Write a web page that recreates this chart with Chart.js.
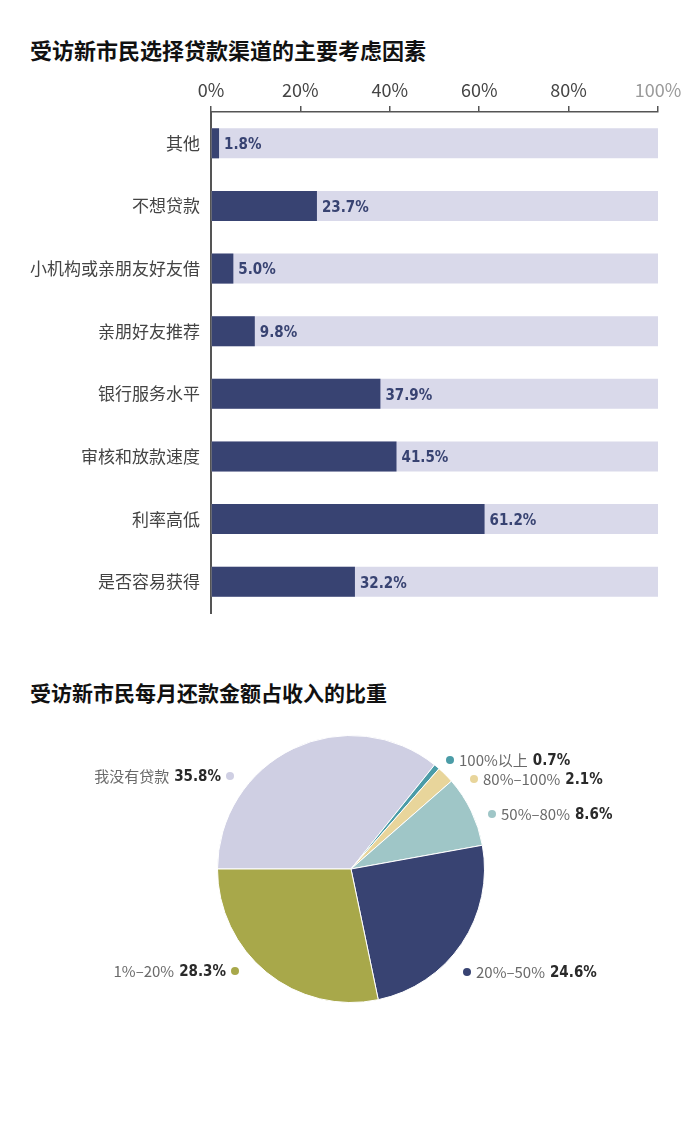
<!DOCTYPE html>
<html>
<head>
<meta charset="utf-8">
<script src="https://cdn.jsdelivr.net/npm/chart.js@4.4.1/dist/chart.umd.min.js"></script>
<style>
  body { margin: 0; background: #fff; width: 700px; height: 1139px; position: relative; overflow: hidden; }
  .title { position: absolute; left: 30px; font: bold 22px "Noto Sans CJK SC", sans-serif; color: #111; }
  #barWrap { position: absolute; left: 0; top: 60px; width: 700px; height: 570px; }
  #pieWrap { position: absolute; left: 0; top: 720px; width: 700px; height: 300px; }
</style>
</head>
<body>
<div class="title" style="top:33px">受访新市民选择贷款渠道的主要考虑因素</div>
<div id="barWrap"><canvas id="barChart"></canvas></div>
<div class="title" style="top:677px;font-size:21px">受访新市民每月还款金额占收入的比重</div>
<div id="pieWrap"><canvas id="pieChart"></canvas></div>
<script>
// bar chart data
var factors = ["其他", "不想贷款", "小机构或亲朋友好友借", "亲朋好友推荐", "银行服务水平", "审核和放款速度", "利率高低", "是否容易获得"]
var factorValues = [1.8, 23.7, 5.0, 9.8, 37.9, 41.5, 61.2, 32.2]
var axisTicks = [0, 20, 40, 60, 80, 100]

// pie chart data
var shareLabels = ["我没有贷款", "100%以上", "80%–100%", "50%–80%", "20%–50%", "1%–20%"]
var shareValues = [35.8, 0.7, 2.1, 8.6, 24.6, 28.3]
var shareColors = ["#cfcfe3", "#4b9ca7", "#e8d59b", "#9fc6c7", "#384372", "#a8a84a"]

// label anchors for the pie (dot position in canvas px, side of text)
var pieLabelPos = [
    { x: 230, y: 56, side: 'left' },
    { x: 450, y: 40, side: 'right' },
    { x: 474, y: 59, side: 'right' },
    { x: 492, y: 94, side: 'right' },
    { x: 467, y: 252, side: 'right' },
    { x: 235, y: 251, side: 'left' }
]

var navy = "#384372"
var numFont = 'bold condensed 15px "DejaVu Sans", sans-serif'
var cjkFont = '"Noto Sans CJK SC", sans-serif'

Chart.defaults.font.family = cjkFont

function setNumFont(ctx) {
    ctx.font = numFont
    ctx.fontStretch = 'condensed'
}

var barLabels = {
    id: 'barLabels',
    afterDatasetsDraw: function (chart) {
        var ctx = chart.ctx
        var meta = chart.getDatasetMeta(0)
        ctx.save()
        setNumFont(ctx)
        ctx.fillStyle = navy
        ctx.textAlign = 'left'
        ctx.textBaseline = 'middle'
        meta.data.forEach(function (el, i) {
            ctx.fillText(factorValues[i].toFixed(1) + '%', el.x + 5, el.y + 2)
        })
        ctx.restore()
    }
}

new Chart(document.getElementById('barChart').getContext('2d'), {
    type: 'bar',
    data: {
        labels: factors,
        datasets: [{
            data: factorValues,
            backgroundColor: navy,
            grouped: false,
            barPercentage: 0.48,
            categoryPercentage: 1
        }, {
            data: factors.map(function () { return 100 }),
            backgroundColor: '#d9d9ea',
            grouped: false,
            barPercentage: 0.48,
            categoryPercentage: 1
        }]
    },
    options: {
        indexAxis: 'y',
        responsive: true,
        maintainAspectRatio: false,
        animation: false,
        layout: { padding: { left: 0, right: 42, top: 0, bottom: 17 } },
        plugins: { legend: { display: false }, tooltip: { enabled: false } },
        scales: {
            x: {
                position: 'top',
                min: 0,
                max: 100,
                afterBuildTicks: function (scale) {
                    scale.ticks = axisTicks.map(function (v) { return { value: v } })
                },
                afterFit: function (scale) { scale.height = 52 },
                ticks: {
                    padding: 5,
                    font: { size: 18 },
                    color: function (c) { return c.tick.value === 100 ? '#9a9a9a' : '#444' },
                    callback: function (v) { return v + '%' }
                },
                grid: { drawOnChartArea: false, drawTicks: true, tickLength: 6, color: '#555', lineWidth: 1.5 },
                border: { display: true, color: '#555', width: 1.5 }
            },
            y: {
                afterFit: function (scale) { scale.width = 211 },
                ticks: { padding: 3, font: { size: 17 }, color: '#444' },
                grid: { display: false },
                border: { display: true, color: '#555', width: 2 }
            }
        }
    },
    plugins: [barLabels]
})

var pieLabels = {
    id: 'pieLabels',
    afterDraw: function (chart) {
        var ctx = chart.ctx
        ctx.save()
        ctx.textBaseline = 'middle'
        pieLabelPos.forEach(function (p, i) {
            ctx.fillStyle = shareColors[i]
            ctx.beginPath()
            ctx.arc(p.x, p.y, 4, 0, Math.PI * 2)
            ctx.fill()
            var val = shareValues[i].toFixed(1) + '%'
            setNumFont(ctx)
            var vw = ctx.measureText(val).width
            ctx.fontStretch = 'normal'
            ctx.font = '15px ' + cjkFont
            var nw = ctx.measureText(shareLabels[i]).width
            var x0 = p.side === 'left' ? p.x - 9 - vw - 5 - nw : p.x + 9
            ctx.textAlign = 'left'
            ctx.fillStyle = '#6a6a6a'
            ctx.fillText(shareLabels[i], x0, p.y)
            setNumFont(ctx)
            ctx.fillStyle = '#2a2a2a'
            ctx.fillText(val, x0 + nw + 5, p.y + 1)
        })
        ctx.restore()
    }
}

new Chart(document.getElementById('pieChart').getContext('2d'), {
    type: 'pie',
    data: {
        labels: shareLabels,
        datasets: [{
            data: shareValues,
            backgroundColor: shareColors,
            borderColor: '#fff',
            borderWidth: 1
        }]
    },
    options: {
        responsive: true,
        maintainAspectRatio: false,
        animation: false,
        rotation: 270,
        layout: { padding: { left: 217, right: 215, top: 15, bottom: 17 } },
        plugins: { legend: { display: false }, tooltip: { enabled: false } }
    },
    plugins: [pieLabels]
})
</script>
</body>
</html>
